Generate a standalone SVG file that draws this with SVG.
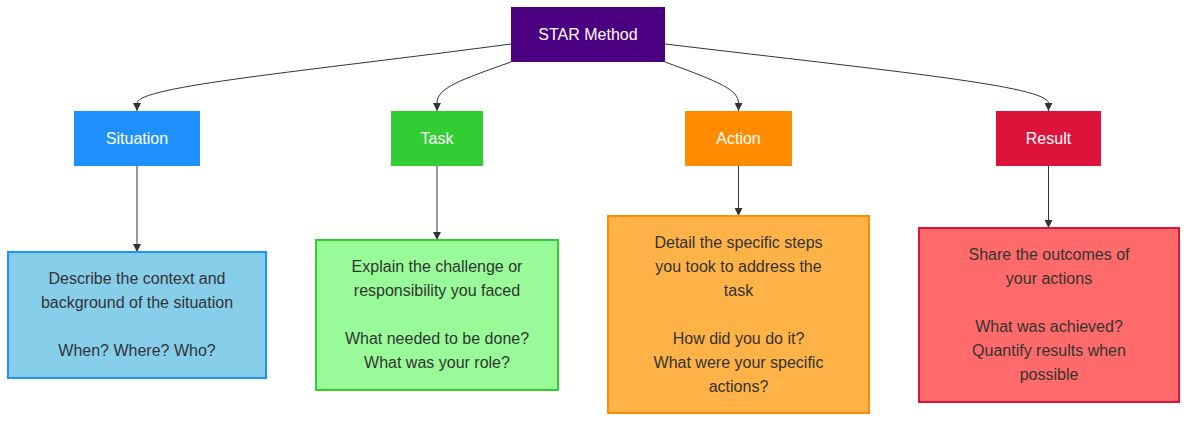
<svg xmlns="http://www.w3.org/2000/svg" width="1187" height="422" viewBox="0 0 1187 422">
<style>
text{font-family:"Liberation Sans",Arial,sans-serif;font-size:16px;text-anchor:middle;dominant-baseline:central}
.w{fill:#ffffff}
.d{fill:#333333}
.e{fill:none;stroke:#333333;stroke-width:1}
</style>
<defs>
<marker id="arr" viewBox="0 0 10 10" refX="10" refY="5" markerWidth="8" markerHeight="8" markerUnits="userSpaceOnUse" orient="auto">
<path d="M0,0 L10,5 L0,10 z" fill="#333333"/>
</marker>
</defs>
<rect width="1187" height="422" fill="#ffffff"/>
<g id="connectors">
<path class="e" marker-end="url(#arr)" d="M511,44 C300,72 140,86 137,103 L137,111"/>
<path class="e" marker-end="url(#arr)" d="M511,62 C460,80 437,88 437,103 L437,111"/>
<path class="e" marker-end="url(#arr)" d="M665,62 C720,82 738.5,90 738.5,103 L738.5,111"/>
<path class="e" marker-end="url(#arr)" d="M665,44 C900,72 1046,86 1048.5,103 L1048.5,111"/>
<path class="e" marker-end="url(#arr)" d="M137,166 L137,252"/>
<path class="e" marker-end="url(#arr)" d="M437,166 L437,240"/>
<path class="e" marker-end="url(#arr)" d="M738.5,166 L738.5,216"/>
<path class="e" marker-end="url(#arr)" d="M1048.5,166 L1048.5,228"/>
</g>
<g id="star">
<rect x="511" y="7" width="154" height="55" fill="#4B0082"/>
<text class="w" x="588" y="34.5">STAR Method</text>
</g>
<g id="situation">
<rect x="74" y="111" width="126" height="55" fill="#1E90FF"/>
<text class="w" x="137" y="138.5">Situation</text>
</g>
<g id="task">
<rect x="391" y="111" width="92" height="55" fill="#32CD32"/>
<text class="w" x="437" y="138.5">Task</text>
</g>
<g id="action">
<rect x="685" y="111" width="107" height="55" fill="#FF8C00"/>
<text class="w" x="738.5" y="138.5">Action</text>
</g>
<g id="result">
<rect x="996" y="111" width="105" height="55" fill="#DC143C"/>
<text class="w" x="1048.5" y="138.5">Result</text>
</g>
<g id="situation-desc">
<rect x="8" y="252" width="258" height="126" fill="#87CEEB" stroke="#1E90FF" stroke-width="2"/>
<text class="d" x="137" y="278">Describe the context and</text>
<text class="d" x="137" y="302">background of the situation</text>
<text class="d" x="137" y="350">When? Where? Who?</text>
</g>
<g id="task-desc">
<rect x="316" y="240" width="242" height="150" fill="#98FB98" stroke="#32CD32" stroke-width="2"/>
<text class="d" x="437" y="266">Explain the challenge or</text>
<text class="d" x="437" y="290">responsibility you faced</text>
<text class="d" x="437" y="338">What needed to be done?</text>
<text class="d" x="437" y="362">What was your role?</text>
</g>
<g id="action-desc">
<rect x="608" y="216" width="261" height="197" fill="#FFB347" stroke="#FF8C00" stroke-width="2"/>
<text class="d" x="738.5" y="242">Detail the specific steps</text>
<text class="d" x="738.5" y="266">you took to address the</text>
<text class="d" x="738.5" y="290">task</text>
<text class="d" x="738.5" y="338">How did you do it?</text>
<text class="d" x="738.5" y="362">What were your specific</text>
<text class="d" x="738.5" y="386">actions?</text>
</g>
<g id="result-desc">
<rect x="919" y="228" width="260" height="174" fill="#FF6B6B" stroke="#DC143C" stroke-width="2"/>
<text class="d" x="1049" y="254">Share the outcomes of</text>
<text class="d" x="1049" y="278">your actions</text>
<text class="d" x="1049" y="326">What was achieved?</text>
<text class="d" x="1049" y="350">Quantify results when</text>
<text class="d" x="1049" y="374">possible</text>
</g>
</svg>
